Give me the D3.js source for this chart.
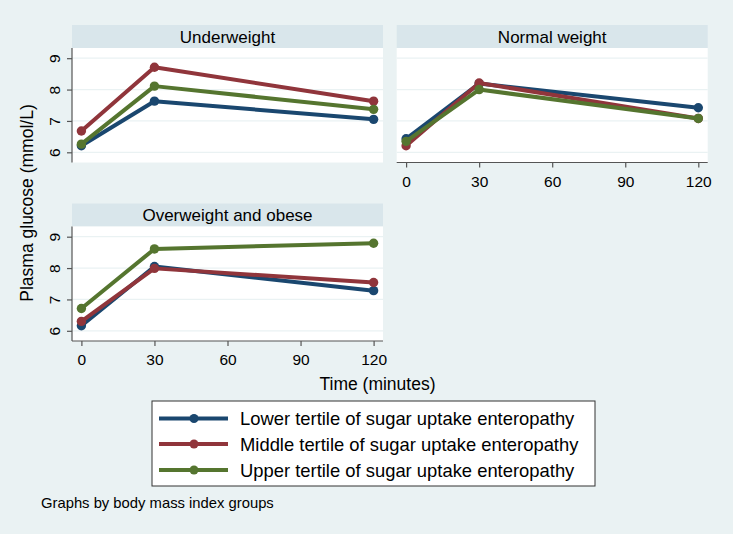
<!DOCTYPE html>
<html>
<head>
<meta charset="utf-8">
<script src="https://cdn.jsdelivr.net/npm/d3@7"></script>
<style>
  html, body { margin: 0; padding: 0; background: #eaf2f3; }
  svg { display: block; }
  text { font-family: "Liberation Sans", Arial, sans-serif; fill: #000; }
</style>
</head>
<body>
<svg id="chart" width="733" height="534"></svg>
<script>
// ---- data ----
const timePoints = [0, 30, 120];
const xTicks = [0, 30, 60, 90, 120];
const yTicks = [6, 7, 8, 9];
const panelNames = ["Underweight", "Normal weight", "Overweight and obese"];
const seriesNames = [
  "Lower tertile of sugar uptake enteropathy",
  "Middle tertile of sugar uptake enteropathy",
  "Upper tertile of sugar uptake enteropathy"
];
const seriesColors = ["#1a476f", "#90353b", "#55752f"];

const underweightLower  = [6.21, 7.63, 7.05];
const underweightMiddle = [6.68, 8.71, 7.63];
const underweightUpper  = [6.26, 8.11, 7.37];

const normalLower  = [6.43, 8.19, 7.42];
const normalMiddle = [6.21, 8.21, 7.08];
const normalUpper  = [6.35, 8.00, 7.08];

const overweightLower  = [6.16, 8.05, 7.28];
const overweightMiddle = [6.30, 7.99, 7.54];
const overweightUpper  = [6.71, 8.61, 8.79];

const panelData = [
  [underweightLower, underweightMiddle, underweightUpper],
  [normalLower, normalMiddle, normalUpper],
  [overweightLower, overweightMiddle, overweightUpper]
];

// ---- layout ----
const svg = d3.select("#chart");
const plotW = 311, plotH = 114.5, headH = 23;
const panelPos = [
  {x: 72, y: 25, showY: true, showX: false},
  {x: 396.7, y: 25, showY: false, showX: true},
  {x: 72, y: 203.5, showY: true, showX: true}
];

const x = d3.scaleLinear().domain([-3.86, 123.86]).range([0, plotW]);
const y = d3.scaleLinear().domain([5.675, 9.325]).range([plotH, 0]);

panelPos.forEach((p, i) => {
  const g = svg.append("g").attr("transform", `translate(${p.x},${p.y})`);
  // header strip
  g.append("rect").attr("x", 0).attr("y", 0).attr("width", plotW).attr("height", headH)
    .attr("fill", "#d9e6eb");
  g.append("text").attr("x", plotW / 2).attr("y", headH / 2 + 6)
    .attr("text-anchor", "middle").style("font-size", "17px").text(panelNames[i]);

  const pg = g.append("g").attr("transform", `translate(0,${headH})`);
  pg.append("rect").attr("width", plotW).attr("height", plotH).attr("fill", "#ffffff");
  // gridlines
  pg.selectAll("line.grid").data(yTicks).join("line")
    .attr("x1", 0).attr("x2", plotW)
    .attr("y1", d => y(d)).attr("y2", d => y(d))
    .attr("stroke", "#eaf2f3").attr("stroke-width", 1.3);

  // series
  const line = d3.line().x((d, k) => x(timePoints[k])).y(d => y(d));
  panelData[i].forEach((vals, s) => {
    pg.append("path").datum(vals).attr("d", line)
      .attr("fill", "none").attr("stroke", seriesColors[s])
      .attr("stroke-width", 4).attr("stroke-linejoin", "round");
    pg.selectAll(null).data(vals).join("circle")
      .attr("cx", (d, k) => x(timePoints[k])).attr("cy", d => y(d))
      .attr("r", 4.7).attr("fill", seriesColors[s]);
  });

  if (p.showY) {
    const ya = pg.append("g").call(d3.axisLeft(y).tickValues(yTicks).tickSize(5).tickPadding(8).tickFormat(d3.format("d")));
    ya.select(".domain").attr("stroke", "#555").attr("stroke-width", 1.2).attr("d", `M0,0V${plotH}`);
    ya.selectAll(".tick line").attr("stroke", "#555").attr("stroke-width", 1.2);
    ya.selectAll(".tick text").attr("fill", "#000").style("font-size", "15.5px")
      .attr("transform", "rotate(-90)")
      .attr("x", 0).attr("dy", 0)
      .attr("y", -12)
      .attr("text-anchor", "middle")
      .attr("dominant-baseline", "auto");
  }
  if (p.showX) {
    const xa = pg.append("g").attr("transform", `translate(0,${plotH})`)
      .call(d3.axisBottom(x).tickValues(xTicks).tickSize(5).tickPadding(8).tickFormat(d3.format("d")));
    xa.select(".domain").attr("stroke", "#555").attr("stroke-width", 1.2).attr("d", `M0,0H${plotW}`);
    xa.selectAll(".tick line").attr("stroke", "#555").attr("stroke-width", 1.2);
    xa.selectAll(".tick text").attr("fill", "#000").style("font-size", "15.5px");
  }
});

// axis titles
svg.append("text").attr("transform", "translate(33,203) rotate(-90)")
  .attr("text-anchor", "middle").style("font-size", "17.5px").text("Plasma glucose (mmol/L)");
svg.append("text").attr("x", 377.5).attr("y", 389.5)
  .attr("text-anchor", "middle").style("font-size", "17.5px").text("Time (minutes)");

// legend
const lg = svg.append("g").attr("transform", "translate(152,401)");
lg.append("rect").attr("width", 443).attr("height", 85)
  .attr("fill", "#ffffff").attr("stroke", "#333").attr("stroke-width", 1);
const rowY = [17.5, 43, 69];
seriesNames.forEach((name, s) => {
  const r = lg.append("g").attr("transform", `translate(0,${rowY[s]})`);
  r.append("line").attr("x1", 7).attr("x2", 76).attr("y1", 0).attr("y2", 0)
    .attr("stroke", seriesColors[s]).attr("stroke-width", 4);
  r.append("circle").attr("cx", 42).attr("cy", 0).attr("r", 4.5).attr("fill", seriesColors[s]);
  r.append("text").attr("x", 88).attr("y", 6.5).style("font-size", "18.4px").text(name);
});

// note
svg.append("text").attr("x", 41).attr("y", 508).style("font-size", "14.8px")
  .text("Graphs by body mass index groups");
</script>
</body>
</html>
